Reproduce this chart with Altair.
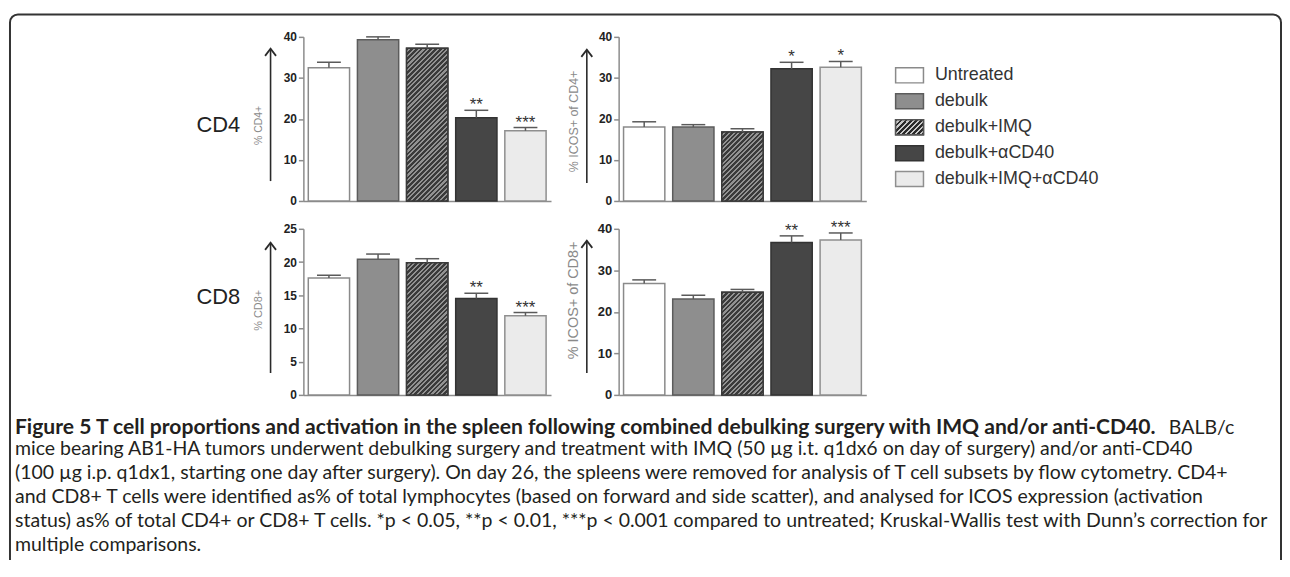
import altair as alt
import pandas as pd

# ---------------- data ----------------
groups = ["Untreated", "debulk", "debulk+IMQ", "debulk+αCD40", "debulk+IMQ+αCD40"]

cd4_pct = [32.5, 39.3, 37.2, 20.3, 17.1]
cd4_pct_err = [33.8, 40.0, 38.2, 22.1, 17.9]
cd4_pct_sig = ["", "", "", "**", "***"]

cd4_icos = [18.0, 18.0, 16.8, 32.2, 32.6]
cd4_icos_err = [19.3, 18.6, 17.6, 33.8, 34.0]
cd4_icos_sig = ["", "", "", "*", "*"]

cd8_pct = [17.6, 20.4, 19.9, 14.5, 11.9]
cd8_pct_err = [18.0, 21.2, 20.5, 15.3, 12.4]
cd8_pct_sig = ["", "", "", "**", "***"]

cd8_icos = [26.8, 23.1, 24.7, 36.7, 37.3]
cd8_icos_err = [27.7, 24.0, 25.4, 38.3, 39.0]
cd8_icos_sig = ["", "", "", "**", "***"]

ticks_40 = [0, 10, 20, 30, 40]
ticks_25 = [0, 5, 10, 15, 20, 25]

caption_bold = ("Figure 5 T cell proportions and activation in the spleen following "
                "combined debulking surgery with IMQ and/or anti-CD40.")
caption_after_bold = "BALB/c"
caption_lines = [
    "mice bearing AB1-HA tumors underwent debulking surgery and treatment with IMQ (50 µg i.t. q1dx6 on day of surgery) and/or anti-CD40",
    "(100 µg i.p. q1dx1, starting one day after surgery). On day 26, the spleens were removed for analysis of T cell subsets by flow cytometry. CD4+",
    "and CD8+ T cells were identified as% of total lymphocytes (based on forward and side scatter), and analysed for ICOS expression (activation",
    "status) as% of total CD4+ or CD8+ T cells. *p < 0.05, **p < 0.01, ***p < 0.001 compared to untreated; Kruskal-Wallis test with Dunn’s correction for",
    "multiple comparisons.",
]

# ---------------- styling ----------------
FILLS = ["#ffffff", "#8e8e8e", "#5e5e5e", "#464646", "#ebebeb"]
STROKES = ["#8a8a8a", "#5c5c5c", "#3a3a3a", "#333333", "#8f8f8f"]
AXIS_GREY = "#8c8c8c"
LABEL_FONT = "Liberation Sans"
CAP_FONT = "Lato"

W = 249
H_TOP = 165
H_BOT = 167
PAD_IN, PAD_OUT = 0.16, 0.1
STEP = W / (5 - PAD_IN + 2 * PAD_OUT)
BAR_W = STEP * (1 - PAD_IN)

# page-coordinate origins of the panels (top-left of plot area)
O1 = (305, 35)
O2 = (622, 35)
OL = (939, 35)
O3 = (305, 228)
O4 = (622, 228)


def hatch_gradient(w, h, period=3.4, dark="#3a3a3a", light="#929292", dark_frac=0.55):
    c = (w + h) / (w * w + h * h)
    P = period * 2 ** 0.5 / (w + h)
    stops = []
    t = 0.0
    while t < 1.0:
        b = min(t + P * dark_frac, 1.0)
        e = min(t + P, 1.0)
        stops += [
            alt.GradientStop(offset=round(t, 5), color=dark),
            alt.GradientStop(offset=round(b, 5), color=dark),
            alt.GradientStop(offset=round(b, 5), color=light),
            alt.GradientStop(offset=round(e, 5), color=light),
        ]
        t += P
    return alt.LinearGradient(gradient="linear", stops=stops, x1=0, y1=0,
                              x2=round(c * w, 6), y2=round(c * h, 6))


one = pd.DataFrame({"k": [0]})


def text_at(origin, px, py, txt, **kw):
    return alt.Chart(one).mark_text(text=txt, **kw).encode(
        x=alt.value(px - origin[0]), y=alt.value(py - origin[1]))


def arrow(origin, px, top, bottom):
    line = alt.Chart(one).mark_rule(color="#2a2a2a", strokeWidth=1.6).encode(
        x=alt.value(px - origin[0]), y=alt.value(top - origin[1]),
        y2=alt.value(bottom - origin[1]))
    head = alt.Chart(one).mark_point(
        shape="M-1,1.3L0,0L1,1.3", filled=False, size=121, strokeWidth=1.8,
        color="#2a2a2a", opacity=1).encode(
        x=alt.value(px - origin[0]), y=alt.value(top - origin[1]))
    return [line, head]


def panel(origin, values, errs, sig, ymax, ticks, height, ylabel, ylabel_size,
          ylabel_xy, arrow_spec, tick_font=12, extra=()):
    df = pd.DataFrame({"group": groups, "value": values, "err": errs, "sig": sig})
    xenc = alt.X("group:N", sort=groups, title=None,
                 scale=alt.Scale(domain=groups, paddingInner=PAD_IN, paddingOuter=PAD_OUT),
                 axis=alt.Axis(labels=False, ticks=False, title=None, domain=True,
                               domainColor=AXIS_GREY, domainWidth=1.5))
    yscale = alt.Scale(domain=[0, ymax], nice=False, zero=True)
    yaxis = alt.Axis(values=ticks, title=None, labelFontSize=tick_font,
                     labelOverlap=False, tickCount=len(ticks))
    base = alt.Chart(df).encode(x=xenc)

    def Y(field):
        return alt.Y(field, scale=yscale, title=None, axis=yaxis)

    bars = base.mark_bar(strokeWidth=1.5).encode(
        y=Y("value:Q"),
        fill=alt.Fill("group:N", scale=alt.Scale(domain=groups, range=FILLS), legend=None),
        stroke=alt.Stroke("group:N", scale=alt.Scale(domain=groups, range=STROKES), legend=None),
    )
    hatch_val = values[groups.index("debulk+IMQ")]
    h_px = hatch_val / ymax * height
    hatch = base.transform_filter(alt.datum.group == "debulk+IMQ").mark_bar(
        fill=hatch_gradient(BAR_W, h_px), stroke="#3a3a3a", strokeWidth=1.5).encode(
        y=Y("value:Q"))
    err_line = base.mark_rule(color="#5a5a5a", strokeWidth=1.5).encode(
        y=Y("value:Q"), y2="err:Q")
    cap = base.mark_tick(color="#5a5a5a", size=24, thickness=1.5, opacity=1).encode(
        y=Y("err:Q"))
    stars = base.mark_text(font=LABEL_FONT, fontSize=17, color="#333333",
                           baseline="alphabetic", dy=0).encode(
        y=Y("err:Q"), text="sig:N")

    layers = [bars, hatch, err_line, cap, stars]
    layers += arrow(origin, *arrow_spec)
    layers.append(text_at(origin, ylabel_xy[0], ylabel_xy[1], ylabel, angle=270,
                          align="center", baseline="middle", font=LABEL_FONT,
                          fontSize=ylabel_size, color="#8a8a8a"))
    layers += list(extra)
    return alt.layer(*layers).properties(width=W, height=height)


# frame (drawn in panel 1's coordinates) and cover for its bottom edge
frame = alt.Chart(one).mark_rect(
    fillOpacity=0, stroke="#333333", strokeWidth=2,
    cornerRadiusTopLeft=8, cornerRadiusTopRight=8).encode(
    x=alt.value(10 - O1[0]), x2=alt.value(1288 - O1[0]),
    y=alt.value(12.5 - O1[1]), y2=alt.value(560 - O1[1]))
frame_cover = alt.Chart(one).mark_rule(color="white", strokeWidth=4).encode(
    x=alt.value(11 - O1[0]), x2=alt.value(1287 - O1[0]), y=alt.value(560 - O1[1]))

cd4_lab = text_at(O1, 219.5, 124, "CD4", font=LABEL_FONT, fontSize=22,
                  color="#222222", align="center", baseline="middle")
cd8_lab = text_at(O3, 219.5, 297, "CD8", font=LABEL_FONT, fontSize=22,
                  color="#222222", align="center", baseline="middle")

CAP_X = 15
CAP_Y0 = 428
CAP_DY = 24.2
CAP_SIZE = 19.6
cap_bold = text_at(O3, CAP_X, CAP_Y0, caption_bold, font=CAP_FONT, fontSize=21.2,
                   fontWeight="bold", color="#231f20", align="left", baseline="middle")
cap_balb = text_at(O3, 1241, CAP_Y0, caption_after_bold, font=CAP_FONT, fontSize=CAP_SIZE,
                   color="#231f20", align="right", baseline="middle")
cap_rest = text_at(O3, CAP_X, CAP_Y0 + CAP_DY / 2, caption_lines, font=CAP_FONT,
                   fontSize=CAP_SIZE, lineHeight=CAP_DY, color="#231f20", align="left",
                   baseline="top")

p1 = panel(O1, cd4_pct, cd4_pct_err, cd4_pct_sig, 40, ticks_40, H_TOP, "% CD4+", 10.5,
           (260, 124), (272, 47, 180), extra=[cd4_lab, frame, frame_cover])
p2 = panel(O2, cd4_icos, cd4_icos_err, cd4_icos_sig, 40, ticks_40, H_TOP, "% ICOS+ of CD4+", 12.5,
           (577, 120), (590, 48, 182))
p3 = panel(O3, cd8_pct, cd8_pct_err, cd8_pct_sig, 25, ticks_25, H_BOT, "% CD8+", 11,
           (260, 310), (272, 242, 373), extra=[cd8_lab, cap_bold, cap_balb, cap_rest])
p4 = panel(O4, cd8_icos, cd8_icos_err, cd8_icos_sig, 40, ticks_40, H_BOT, "% ICOS+ of CD8+", 14.5,
           (577, 300), (590, 240, 373), tick_font=13)

# ---------------- legend ----------------
leg_rows = [73.7, 101.7, 127.3, 152.7, 178]
leg_df = pd.DataFrame({"group": groups})
leg_y = alt.Y("group:N", sort=groups, title=None, axis=None,
              scale=alt.Scale(domain=groups, padding=0,
                              range=[leg_rows[0] - OL[1], leg_rows[-1] - OL[1]]))
SW = 14
rect_path = "M-1,-0.54L1,-0.54L1,0.54L-1,0.54Z"
leg_base = alt.Chart(leg_df).encode(y=leg_y)
sw = leg_base.mark_point(shape=rect_path, size=(2 * SW) ** 2, filled=True,
                         strokeWidth=1.5, opacity=1).encode(
    x=alt.value(914.5 - OL[0]),
    fill=alt.Fill("group:N", scale=alt.Scale(domain=groups, range=FILLS), legend=None),
    stroke=alt.Stroke("group:N", scale=alt.Scale(domain=groups, range=STROKES), legend=None))
sw_hatch = leg_base.transform_filter(alt.datum.group == "debulk+IMQ").mark_point(
    shape=rect_path, size=(2 * SW) ** 2, filled=True, strokeWidth=1.5, opacity=1,
    fill=hatch_gradient(28, 15, period=3.6, dark="#2a2a2a", light="#c8c8c8", dark_frac=0.5),
    stroke="#555555").encode(x=alt.value(914.5 - OL[0]))
leg_txt = leg_base.mark_text(align="left", baseline="middle", font=LABEL_FONT,
                             fontSize=18, color="#333333").encode(
    x=alt.value(940 - OL[0]), text="group:N")
legend = alt.layer(sw, sw_hatch, leg_txt).properties(width=240, height=H_TOP)

chart = alt.concat(p1, p2, legend, p3, p4, columns=3,
                   spacing={"row": 28, "column": 68}, bounds="flush", align="each").properties(
    padding={"left": 1, "top": 3.5, "right": 0, "bottom": 0},
    background="white",
).configure_view(stroke=None).configure_axis(
    domainColor=AXIS_GREY, domainWidth=1.5, tickColor=AXIS_GREY, tickWidth=1.5,
    tickSize=5, labelFont=LABEL_FONT, labelFontWeight="bold", labelFontSize=12,
    labelColor="#222222", labelPadding=2, grid=False, labelOverlap=False)

chart.save("out.html", embed_options={"renderer": "svg", "actions": False})
